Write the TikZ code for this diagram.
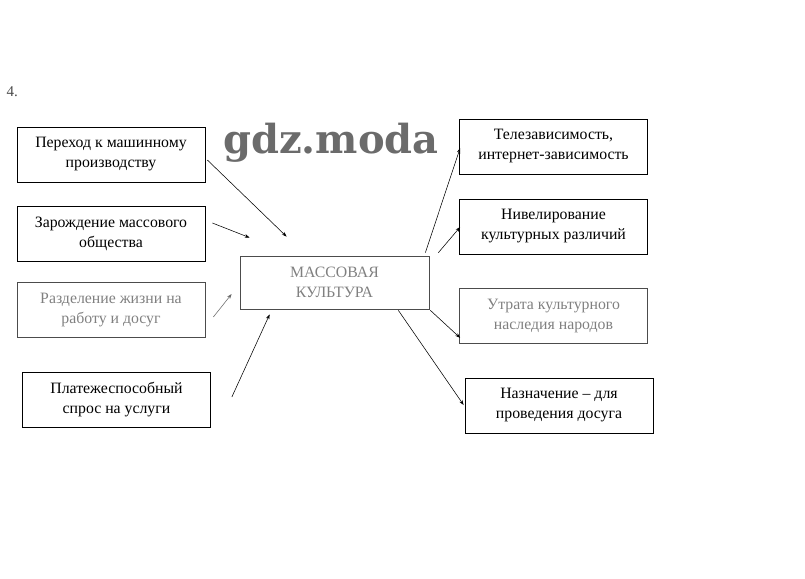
\documentclass[tikz,border=0pt]{standalone}
\usepackage{fontspec}
\setmainfont{Liberation Serif}
\newfontfamily\wmfont{DejaVu Serif}
\usetikzlibrary{calc,arrows.meta}
\tikzset{
  box/.style={draw=black, line width=0.7pt, minimum width=188pt, minimum height=55pt, align=center, inner sep=2pt, font=\fontsize{15.8}{20}\selectfont},
  faded/.style={text=black!50, draw=black!70},
  arr/.style={line width=0.55pt, -{Stealth[length=5pt,width=3.5pt]}}
}
\begin{document}
\begin{tikzpicture}[x=1pt,y=-1pt]
\useasboundingbox (0,0) rectangle (805,578);
\node[font=\fontsize{15}{16}\selectfont, text=black!70, anchor=west] (num) at (3,92) {4.};
\node[font=\wmfont\bfseries\fontsize{40}{40}\selectfont, text=black!58, anchor=base] (wm) at (331,153) {gdz.moda};

\node[box] (L1) at (111,154.5) {Переход к машинному\\производству};
\node[box] (L2) at (111,234) {Зарождение массового\\общества};
\node[box, faded] (L3) at (111,310) {Разделение жизни на\\работу и досуг};
\node[box] (L4) at (116.5,399.5) {Платежеспособный\\спрос на услуги};
\node[box, faded, minimum width=189pt, minimum height=53pt] (C) at (334.5,282.5) {МАССОВАЯ\\КУЛЬТУРА};
\node[box] (R1) at (553.5,146.5) {Телезависимость,\\интернет-зависимость};
\node[box] (R2) at (553.5,226.5) {Нивелирование\\культурных различий};
\node[box, faded] (R3) at (553.5,316) {Утрата культурного\\наследия народов};
\node[box] (R4) at (559,405.5) {Назначение -- для\\проведения досуга};

\draw[arr] ($(L1.east)+(2,5.5)$) -- ($(C.north west)+(47,-19)$);
\draw[arr] ($(L2.east)+(7,-11)$) -- ($(C.north west)+(10,-18)$);
\draw[arr, draw=black!60] ($(L3.east)+(8,7)$) -- ($(C.west)+(-8,11.5)$);
\draw[arr] ($(L4.east)+(21,-2.5)$) -- ($(C.south west)+(30,5)$);
\draw[arr] ($(C.north east)+(-4,-3)$) -- ($(R1.west)+(1,1.5)$);
\draw[arr] ($(C.north east)+(9,-3)$) -- ($(R2.west)+(1,0.5)$);
\draw[arr] ($(C.south east)+(1,1)$) -- ($(R3.south west)+(1,-6)$);
\draw[arr] ($(C.south east)+(-31,1)$) -- ($(R4.west)+(-1,-0.5)$);
\end{tikzpicture}
\end{document}
